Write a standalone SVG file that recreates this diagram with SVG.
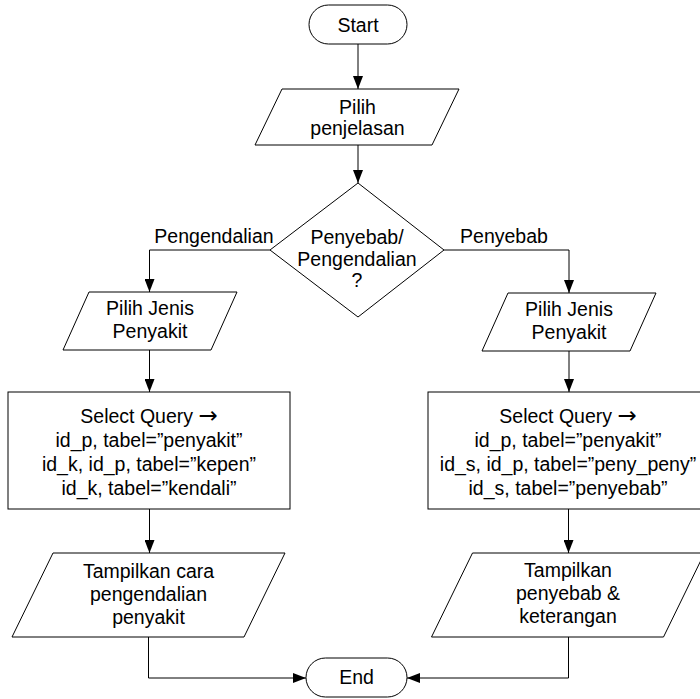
<svg xmlns="http://www.w3.org/2000/svg" width="700" height="699" viewBox="0 0 700 699">
<style>
.s{fill:#fff;stroke:#000;stroke-width:1}
.t{font-family:"Liberation Sans",Arial,sans-serif;font-size:19.5px;fill:#000;text-anchor:middle}
.a{font-family:"DejaVu Sans",sans-serif;font-size:23px}
.c{fill:none;stroke:#000;stroke-width:1}
</style>
<defs>
<marker id="ah" markerUnits="userSpaceOnUse" markerWidth="13" markerHeight="10" refX="13" refY="5" orient="auto">
<path d="M0,0 L13,5 L0,10 z" fill="#000"/>
</marker>
</defs>
<rect width="700" height="699" fill="#fff"/>
<g id="connectors">
<path class="c" d="M358,44 V89" marker-end="url(#ah)"/>
<path class="c" d="M358,145 V183" marker-end="url(#ah)"/>
<path class="c" d="M270,250 H149.5 V292" marker-end="url(#ah)"/>
<path class="c" d="M444,250 H569 V293" marker-end="url(#ah)"/>
<path class="c" d="M149.5,350 V392" marker-end="url(#ah)"/>
<path class="c" d="M569,351 V392" marker-end="url(#ah)"/>
<path class="c" d="M149.5,509 V553" marker-end="url(#ah)"/>
<path class="c" d="M568.5,509 V553" marker-end="url(#ah)"/>
<path class="c" d="M148.5,637 V678 H306" marker-end="url(#ah)"/>
<path class="c" d="M568.5,637 V678 H407" marker-end="url(#ah)"/>
</g>
<g id="start">
<rect class="s" x="309" y="5" width="98" height="39" rx="19.5"/>
<text class="t" x="358" y="32">Start</text>
</g>
<g id="pilih-penjelasan">
<path class="s" d="M282,89 H459 L432,145 H255 z"/>
<text class="t" x="357.5" y="114">Pilih</text>
<text class="t" x="357.5" y="135">penjelasan</text>
</g>
<g id="decision">
<path class="s" d="M358,183 L444,250 L358,317 L270,250 z"/>
<text class="t" x="357" y="244">Penyebab/</text>
<text class="t" x="357" y="265.5">Pengendalian</text>
<text class="t" x="357" y="287">?</text>
</g>
<g id="label-left">
<text class="t" x="214" y="243">Pengendalian</text>
</g>
<g id="label-right">
<text class="t" x="504" y="243">Penyebab</text>
</g>
<g id="pilih-jenis-left">
<path class="s" d="M89,292 H237 L211,350 H63 z"/>
<text class="t" x="150" y="315">Pilih Jenis</text>
<text class="t" x="150" y="338">Penyakit</text>
</g>
<g id="pilih-jenis-right">
<path class="s" d="M508,293 H656 L630,351 H482 z"/>
<text class="t" x="569" y="316">Pilih Jenis</text>
<text class="t" x="569" y="339">Penyakit</text>
</g>
<g id="query-left">
<rect class="s" x="8" y="392" width="282" height="117"/>
<text class="t" x="149" y="423">Select Query <tspan class="a">→</tspan></text>
<text class="t" x="149" y="447">id_p, tabel=”penyakit”</text>
<text class="t" x="149" y="471">id_k, id_p, tabel=”kepen”</text>
<text class="t" x="149" y="495">id_k, tabel=”kendali”</text>
</g>
<g id="query-right">
<rect class="s" x="428" y="392" width="282" height="117"/>
<text class="t" x="568" y="423">Select Query <tspan class="a">→</tspan></text>
<text class="t" x="568" y="447">id_p, tabel=”penyakit”</text>
<text class="t" x="568" y="471">id_s, id_p, tabel=”peny_peny”</text>
<text class="t" x="568" y="495">id_s, tabel=”penyebab”</text>
</g>
<g id="tampilkan-left">
<path class="s" d="M53,553 H285 L244,637 H12 z"/>
<text class="t" x="148.5" y="578">Tampilkan cara</text>
<text class="t" x="148.5" y="601">pengendalian</text>
<text class="t" x="148.5" y="624">penyakit</text>
</g>
<g id="tampilkan-right">
<path class="s" d="M472.5,553 H704.5 L663.5,637 H431.5 z"/>
<text class="t" x="568" y="577">Tampilkan</text>
<text class="t" x="568" y="600">penyebab &amp;</text>
<text class="t" x="568" y="623">keterangan</text>
</g>
<g id="end">
<rect class="s" x="306" y="658" width="101" height="39" rx="19.5"/>
<text class="t" x="356.5" y="684">End</text>
</g>
</svg>
